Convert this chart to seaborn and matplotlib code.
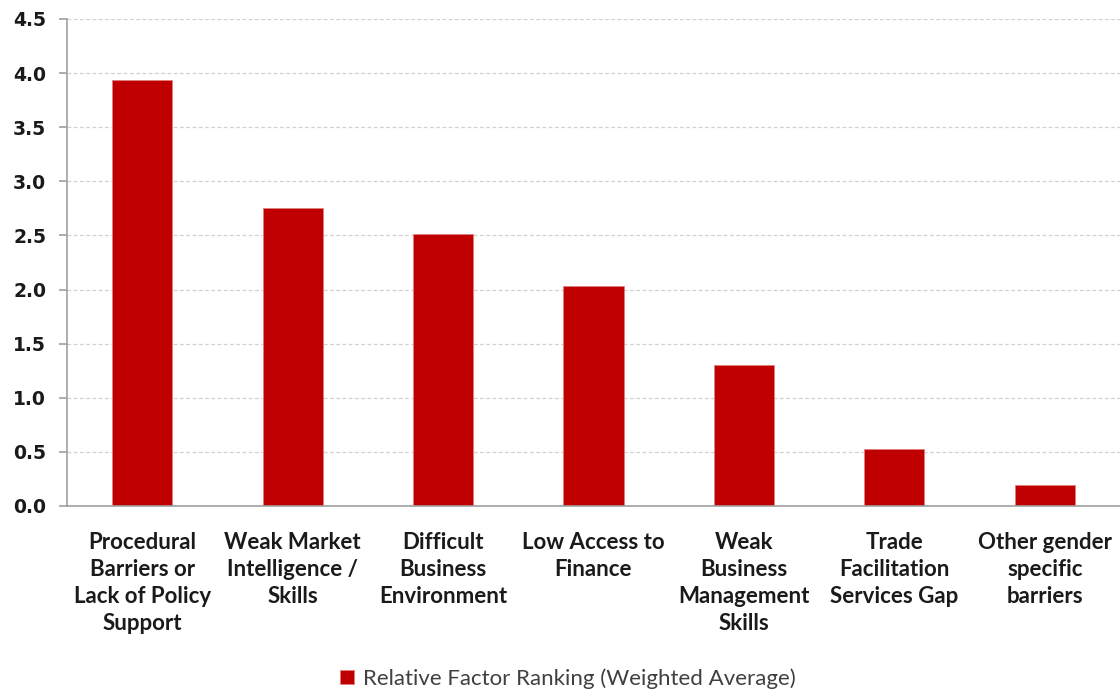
import matplotlib
matplotlib.use("Agg")
import matplotlib.pyplot as plt
import seaborn as sns
import pandas as pd
import numpy as np

categories = [
    "Procedural\nBarriers or\nLack of Policy\nSupport",
    "Weak Market\nIntelligence /\nSkills",
    "Difficult\nBusiness\nEnvironment",
    "Low Access to\nFinance",
    "Weak\nBusiness\nManagement\nSkills",
    "Trade\nFacilitation\nServices Gap",
    "Other gender\nspecific\nbarriers",
]
values = [3.94, 2.75, 2.51, 2.03, 1.30, 0.53, 0.19]
series_name = "Relative Factor Ranking (Weighted Average)"
y_ticks = [0.0, 0.5, 1.0, 1.5, 2.0, 2.5, 3.0, 3.5, 4.0, 4.5]

df = pd.DataFrame({"category": categories, "value": values, "series": series_name})

sns.set_theme(style="white")
plt.rcParams["font.family"] = ["DejaVu Sans"]

fig = plt.figure(figsize=(11.2, 6.9), dpi=100)
ax = fig.add_axes([0.0598, 0.2667, 0.9402, 0.7058])

sns.barplot(data=df, x="category", y="value", hue="series",
            palette=["#C00000"], width=0.4, ax=ax, dodge=False,
            edgecolor="#E08080", linewidth=0.6, saturation=1)

ax.set_ylim(0, 4.5)
ax.set_xlim(-0.5, len(categories) - 0.5)
ax.set_yticks(y_ticks)
ax.set_yticklabels([f"{t:.1f}" for t in y_ticks], fontsize=13.5, fontweight="bold",
                   color="#1a1a1a")
ax.set_xticks(range(len(categories)))
ax.set_xticklabels(categories, fontsize=16, fontweight="bold", family="Lato",
                   color="#1a1a1a", linespacing=1.34, va="top")
ax.set_xticks(np.arange(-0.5, len(categories), 1.0), minor=True)
ax.tick_params(axis="x", which="major", length=0, pad=19)
ax.tick_params(axis="x", which="minor", length=7, width=1.2, color="#A0A0A0", direction="out")
ax.tick_params(axis="y", which="major", length=6, width=1.2, color="#A0A0A0", direction="out", pad=9, left=True)
ax.set_xlabel("")
ax.set_ylabel("")
ax.yaxis.grid(True, linestyle=(0, (3, 2)), color="#D0D0D0", linewidth=0.9)
ax.set_axisbelow(True)
for s in ["top", "right"]:
    ax.spines[s].set_visible(False)
for s in ["left", "bottom"]:
    ax.spines[s].set_color("#A0A0A0")
    ax.spines[s].set_linewidth(1.2)

sns.move_legend(ax, "center", bbox_to_anchor=(0.507, 0.016), bbox_transform=fig.transFigure,
                frameon=False, title=None, handlelength=0.6, handleheight=0.6,
                handletextpad=0.4, prop={"family": "Lato", "size": 16})
for t in ax.get_legend().get_texts():
    t.set_color("#404040")

fig.savefig("out.png", dpi=100)
